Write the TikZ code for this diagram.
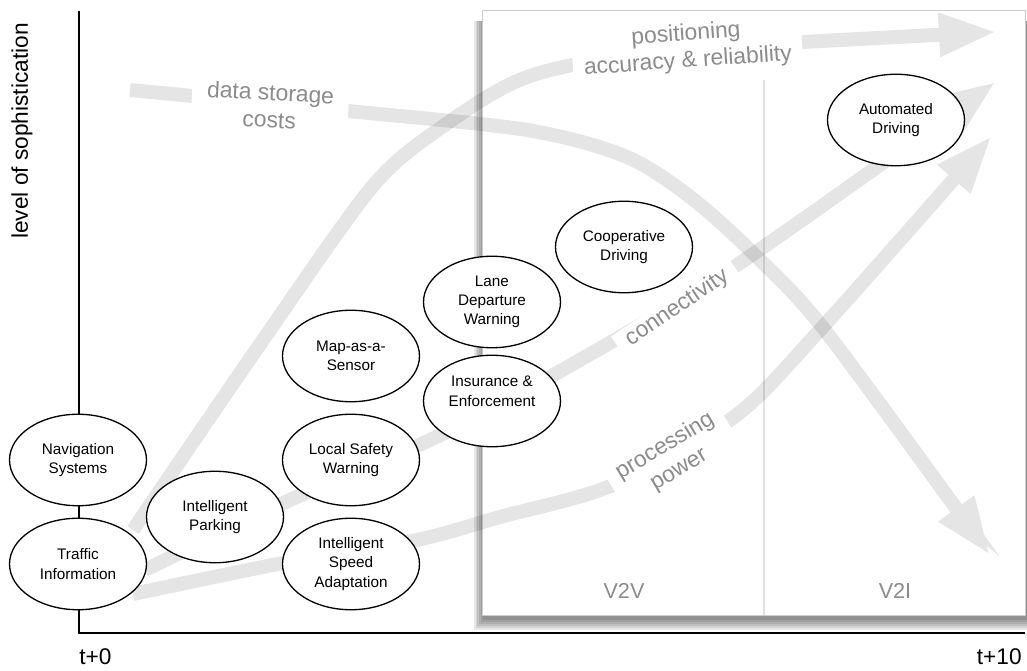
\documentclass[tikz,border=0pt]{standalone}
\usepackage{fontspec}
\setmainfont{Liberation Sans}
\usepackage{tikz}
\usetikzlibrary{arrows.meta, shapes.geometric}
\newcommand*{\appfont}{\fontsize{8.7}{11}\selectfont}
\newcommand*{\trendfont}{\fontsize{13}{15.5}\selectfont}
\newcommand*{\axisfont}{\fontsize{12.9}{15}\selectfont}
\tikzset{
    app/.style={draw, ellipse, fill=white, line width=.75pt, minimum width=2.74cm, minimum height=1.83cm, inner sep=0pt, align=center, font=\appfont},
    trend/.style={line width=.28cm, draw=black, -{Triangle[width=.9cm, length=1.1cm, line width=0pt]}},
    trendlabel/.style={fill=white, text=black!45, align=center, inner xsep=.22cm, inner ysep=.05cm, font=\trendfont},
    panel/.style={text=black!45, font=\fontsize{12.3}{14}\selectfont}
}

\begin{document}
\begin{tikzpicture}
    \useasboundingbox (0, 0) rectangle (20.54, 13.42);
    % axes
    \draw[line width=1.1pt](1.58, 13.2)--(1.58, .76)--(20.5, .76);
    \node[rotate=90, font=\axisfont] (sophistication) at (.44, 10.8) {level of sophistication};
    \node[anchor=west, inner sep=0pt, font=\axisfont] (tstart) at (1.58, .28) {t+0};
    \node[anchor=east, inner sep=0pt, font=\axisfont] (tend) at (20.44, .28) {t+10};
    % V2V / V2I panel with its shadow
    \foreach \i in {1,...,6}
        \fill[black, opacity=.09](9.44+.035*\i, .78+.04*\i) rectangle (20.54, 13);
    \draw[black!20, fill=white](9.64, 1.12) rectangle (20.5, 13.22);
    \draw[black!12, line width=1pt](15.28, 1.12)--(15.28, 11.82);
    \node[panel] (vv) at (12.48, 1.6) {V2V};
    \node[panel] (vi) at (17.9, 1.6) {V2I};
    % trends, one group each so that only the crossings get darker
    \begin{scope}[transparency group, opacity=.1]
        \draw[trend] plot[smooth] coordinates {(2.6, 11.62) (6.96, 11.2) (10.54, 10.82) (12.54, 10.28) (13.88, 9.42) (15.2, 8.22) (16.54, 6.76) (19.77, 2.36)};
    \end{scope}
    \begin{scope}[transparency group, opacity=.1]
        \draw[trend] plot[smooth] coordinates {(2.66, 2.82) (5.26, 6.62) (7.44, 9.68) (8.84, 10.88) (10.54, 11.88) (13, 12.38) (16.08, 12.58) (19.88, 12.78)};
    \end{scope}
    \begin{scope}[transparency group, opacity=.1]
        \draw[trend] plot[smooth] coordinates {(2.9, 2.02) (5.8, 3.42) (8.6, 4.62) (11, 5.88) (14.68, 8.08) (19.88, 11.76)};
    \end{scope}
    \begin{scope}[transparency group, opacity=.1]
        \draw[trend] plot[smooth] coordinates {(2.66, 1.54) (5.66, 2.16) (8.34, 2.62) (10, 3.08) (12.26, 3.72) (14.68, 5.08) (16.4, 6.82) (19.8, 10.66)};
    \end{scope}
    \node[trendlabel, rotate=-3, inner xsep=.3cm] (storage) at (5.4, 11.3) {data storage\\costs};
    \node[trendlabel, rotate=4] (positioning) at (13.74, 12.46) {positioning\\accuracy \& reliability};
    \node[trendlabel, rotate=34] (connectivity) at (13.54, 7.26) {connectivity};
    \node[trendlabel, rotate=31] (processing) at (13.44, 4.26) {processing\\power};
    % applications
    \node[app] (nav) at (1.56, 4.22) {Navigation\\Systems};
    \node[app] (traffic) at (1.56, 2.14) {Traffic\\Information};
    \node[app] (parking) at (4.3, 3.08) {Intelligent\\Parking};
    \node[app] (mapsensor) at (7.02, 6.3) {Map-as-a-\\Sensor};
    \node[app] (safety) at (7.02, 4.22) {Local Safety\\Warning};
    \node[app] (speed) at (7.02, 2.14) {Intelligent\\Speed\\Adaptation};
    \node[app] (insurance) at (9.84, 5.4) {Insurance \&\\Enforcement\\~};
    \node[app] (lane) at (9.84, 7.38) {Lane\\Departure\\Warning};
    \node[app] (coop) at (12.48, 8.48) {Cooperative\\Driving};
    \node[app] (auto) at (17.92, 11.02) {Automated\\Driving};
\end{tikzpicture}
\end{document}
